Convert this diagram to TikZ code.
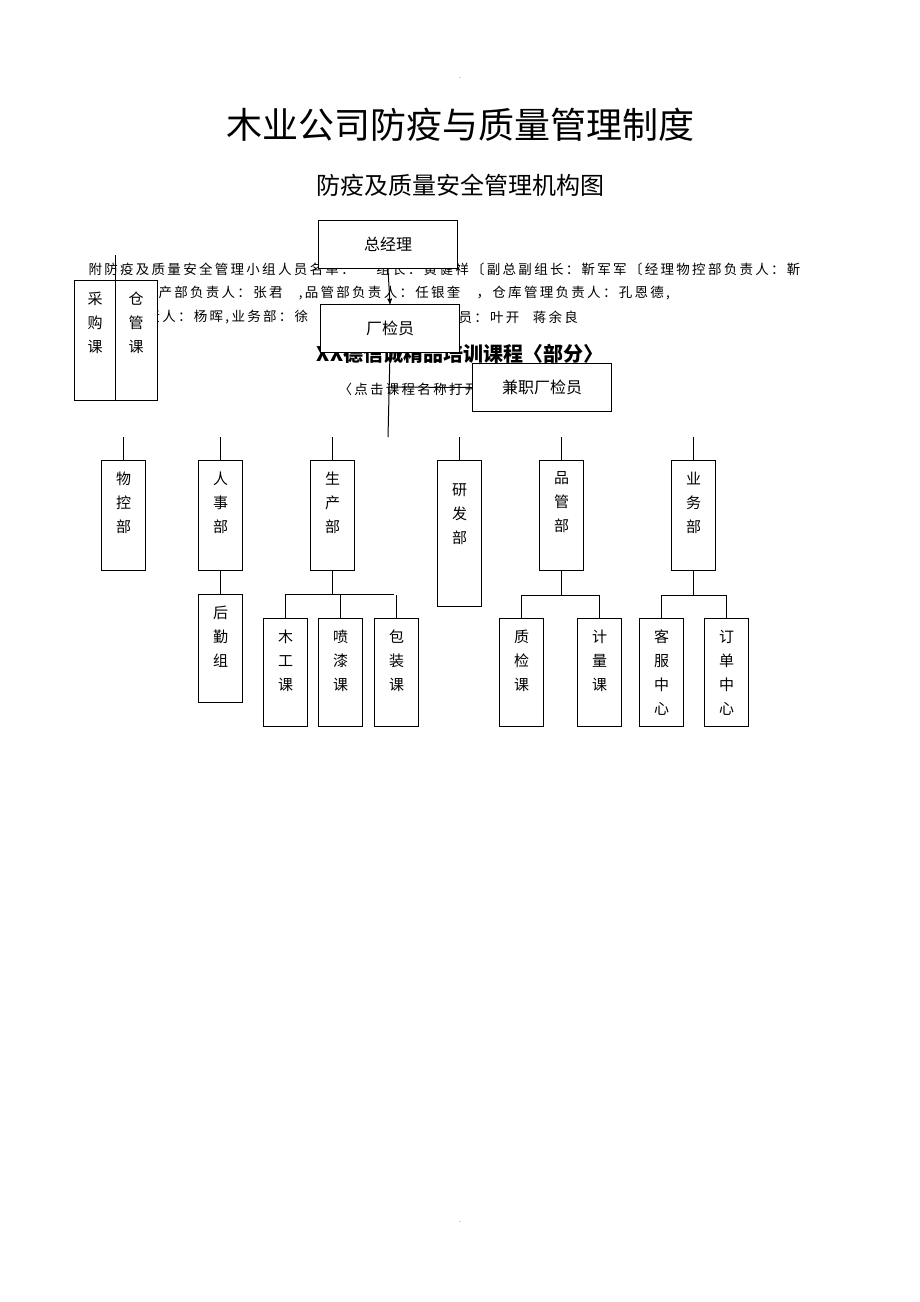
\documentclass[tikz,border=0pt]{standalone}
\usepackage{fontspec}
\setmainfont{Noto Sans CJK SC}
\newfontfamily\memofont[LetterSpace=17]{Noto Sans CJK SC}
\usetikzlibrary{arrows,positioning}
\tikzset{
  box/.style={draw, line width=1pt, fill=white, inner sep=0pt, anchor=north west},
  vbox/.style={box, minimum width=44pt, minimum height=#1},
  vtext/.style={label={[anchor=north, yshift=-8pt, align=center, font=\fontsize{15}{24}\selectfont]north:{#1}}},
  hbox/.style={box, minimum width=139pt, minimum height=48pt, font=\fontsize{16}{20}\selectfont},
  memo/.style={anchor=west, inner sep=0pt, font=\memofont\fontsize{13.5}{16}\selectfont}
}
\begin{document}
\begin{tikzpicture}[x=1pt, y=-1pt, line width=1pt, >=stealth']
\useasboundingbox[fill=white] (0,0) rectangle (920,1302);
\node[font=\fontsize{36}{40}\selectfont] (title) at (460,125) {木业公司防疫与质量管理制度};
\node[font=\fontsize{24}{28}\selectfont] (subtitle) at (460,185) {防疫及质量安全管理机构图};
% text behind the chart
\node[memo] (line1) at (88,269) {附防疫及质量安全管理小组人员名单：\hspace{1.6em}组长：黄健祥〔副总副组长：靳军军〔经理物控部负责人：靳};
\node[memo] (line2) at (158,293) {产部负责人：张君\hspace{1.2em},品管部负责人：任银奎\hspace{1.2em}，仓库管理负责人：孔恩德,};
\node[memo] (line3a) at (146,317) {责人：杨晖,业务部：徐};
\node[memo] (line3b) at (458,317) {员：叶开\hspace{1em}蒋余良};
\node[font=\bfseries\fontsize{20}{24}\selectfont] (course) at (460,354) {XX德信诚精品培训课程〈部分〉};
\node[memo] (click) at (338,389) {〈点击课程名称打开};
% top of the chart
\node[hbox] (gm) at (318,220) {总经理};
\node[hbox] (qc) at (320,304) {厂检员};
\node[hbox] (pqc) at (472,363) {兼职厂检员};
\coordinate (hub) at (388,437);
\draw[->] (gm.south) -- (qc.north);
\draw (qc.south) -- (hub);
\draw (388,387) -- (pqc.west);
\node[box, minimum width=83pt, minimum height=120pt,
  label={[anchor=north, yshift=-8pt, xshift=-21pt, align=center, font=\fontsize{15}{24}\selectfont]north:{采\\购\\课}},
  label={[anchor=north, yshift=-8pt, xshift=20pt, align=center, font=\fontsize{15}{24}\selectfont]north:{仓\\管\\课}}] (buy) at (74,280) {};
\draw (115,255) -- (115,400);
% departments
\foreach \n/\x/\h/\t in {wk/101/110/{物\\控\\部}, rs/198/110/{人\\事\\部}, sc/310/110/{生\\产\\部}, yf/437/146/{\\研\\发\\部}, pg/539/110/{品\\管\\部}, yw/671/110/{业\\务\\部}}{
  \node[vbox=\h pt, vtext={\t}] (\n) at (\x,460) {};
  \draw (\n.north) -- ++(0,-23);
}
% sections
\foreach \n/\x/\t in {hq/198/{后\\勤\\组}}
  \node[vbox=108pt, vtext={\t}] (\n) at (\x,594) {};
\foreach \n/\x/\t in {mg/263/{木\\工\\课}, pq/318/{喷\\漆\\课}, bz/374/{包\\装\\课}, zj/499/{质\\检\\课}, jl/577/{计\\量\\课}, kf/639/{客\\服\\中\\心}, dd/704/{订\\单\\中\\心}}
  \node[vbox=108pt, vtext={\t}] (\n) at (\x,618) {};
\draw (rs.south) -- (hq.north);
\draw (sc.south) -- ++(0,24) coordinate (scb);
\draw (285,594) -- (394,594);
\draw (mg.north) -- (mg.north |- scb) (pq.north) -- (pq.north |- scb) (bz.north) -- (bz.north |- scb);
\draw (pg.south) -- ++(0,24) coordinate (pgb);
\draw (zj.north) |- (jl.north |- pgb) -- (jl.north);
\draw (yw.south) -- ++(0,24) coordinate (ywb);
\draw (kf.north) |- (dd.north |- ywb) -- (dd.north);
\node[font=\fontsize{6}{6}\selectfont] (dot1) at (460,78) {.};
\node[font=\fontsize{6}{6}\selectfont] (dot2) at (460,1222) {.};
\end{tikzpicture}
\end{document}
